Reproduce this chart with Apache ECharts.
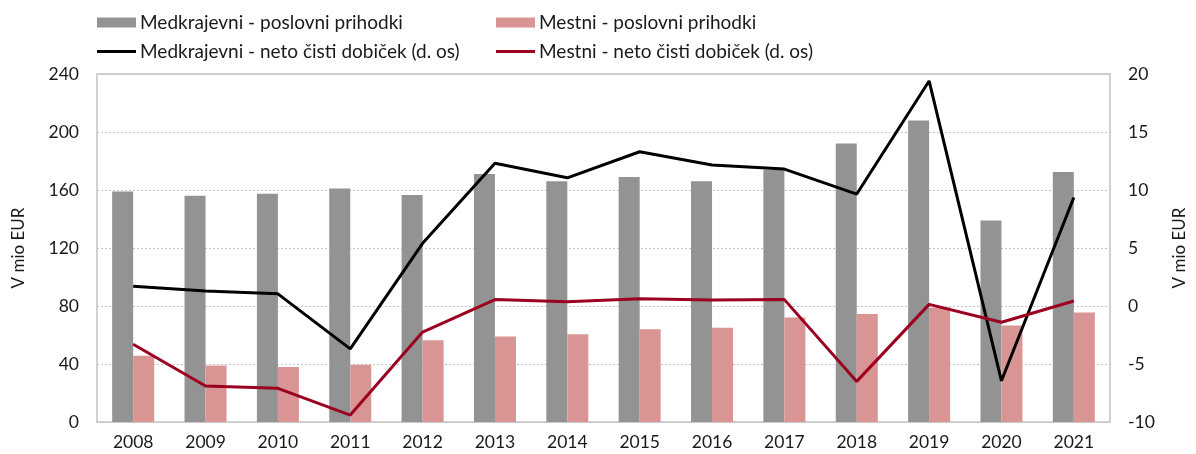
<!DOCTYPE html>
<html>
<head>
<meta charset="utf-8">
<script src="https://cdn.jsdelivr.net/npm/echarts@6/dist/echarts.min.js"></script>
<style>
  html, body { margin: 0; padding: 0; background: #fff; }
  #chart { width: 1196px; height: 454px; }
</style>
</head>
<body>
<div id="chart"></div>
<script>
// podatki
let years = ['2008', '2009', '2010', '2011', '2012', '2013', '2014', '2015', '2016', '2017', '2018', '2019', '2020', '2021'];
let medkrajevniPrihodki = [159, 156, 157.5, 161, 156.5, 171, 166, 169, 166, 174, 192, 208, 139, 172.5];
let mestniPrihodki = [45.7, 39, 38, 39.5, 56.3, 59, 60.5, 64, 65, 72, 74.5, 79, 66.5, 75.6];
let medkrajevniDobicek = [1.7, 1.3, 1.05, -3.7, 5.4, 12.3, 11.05, 13.3, 12.15, 11.8, 9.65, 19.4, -6.45, 9.35];
let mestniDobicek = [-3.3, -6.9, -7.1, -9.4, -2.25, 0.55, 0.37, 0.63, 0.52, 0.55, -6.5, 0.14, -1.4, 0.43];
let leftTicks = { min: 0, max: 240, interval: 40 };
let rightTicks = { min: -10, max: 20, interval: 5 };

let font = 'Lato';
let txt = '#1a1a1a';

let myChart = echarts.init(document.getElementById('chart'));

// ena legenda za vsak element, da so stolpci poravnani
function legendItem(name, left, top, isLine) {
    return {
        data: [name],
        left: left,
        top: top,
        padding: 0,
        icon: 'rect',
        itemWidth: 39,
        itemHeight: isLine ? 3 : 10,
        selectedMode: false,
        textStyle: { fontFamily: font, fontSize: 19, color: txt, padding: [0, 0, 0, -1] }
    };
}

let option = {
    animation: false,
    textStyle: { fontFamily: font },
    legend: [
        legendItem('Medkrajevni - poslovni prihodki', 97, 13, false),
        legendItem('Mestni - poslovni prihodki', 496, 13, false),
        legendItem('Medkrajevni - neto čisti dobiček (d. os)', 97, 42, true),
        legendItem('Mestni - neto čisti dobiček (d. os)', 496, 42, true)
    ],
    grid: {
        left: 97,
        right: 79,
        top: 74,
        bottom: 32,
        show: true,
        borderColor: '#c3c3c3',
        borderWidth: 1.5,
        containLabel: false
    },
    xAxis: {
        type: 'category',
        data: years,
        axisLine: { show: false },
        axisTick: { show: false },
        axisLabel: { fontFamily: font, fontSize: 17.5, color: txt, margin: 11 }
    },
    yAxis: [{
        type: 'value',
        min: leftTicks.min,
        max: leftTicks.max,
        interval: leftTicks.interval,
        name: 'V mio EUR',
        nameLocation: 'middle',
        nameGap: 70,
        nameTextStyle: { fontFamily: font, fontSize: 17, color: txt },
        axisLine: { show: false },
        axisTick: { show: false },
        axisLabel: { fontFamily: font, fontSize: 17.5, color: txt, margin: 18 },
        splitLine: { lineStyle: { color: '#c3c3c3', type: [2, 2], width: 1 } }
    }, {
        type: 'value',
        min: rightTicks.min,
        max: rightTicks.max,
        interval: rightTicks.interval,
        name: 'V mio EUR',
        nameLocation: 'middle',
        nameGap: 61,
        nameRotate: 90,
        nameTextStyle: { fontFamily: font, fontSize: 17, color: txt },
        axisLine: { show: false },
        axisTick: { show: false },
        axisLabel: { fontFamily: font, fontSize: 17.5, color: txt, margin: 18 },
        splitLine: { show: false }
    }],
    series: [{
        name: 'Medkrajevni - poslovni prihodki',
        type: 'bar',
        data: medkrajevniPrihodki,
        barWidth: 21,
        barGap: '0%',
        itemStyle: { color: '#939393' }
    }, {
        name: 'Mestni - poslovni prihodki',
        type: 'bar',
        data: mestniPrihodki,
        barWidth: 21,
        barGap: '0%',
        itemStyle: { color: '#d99594' }
    }, {
        name: 'Medkrajevni - neto čisti dobiček (d. os)',
        type: 'line',
        yAxisIndex: 1,
        data: medkrajevniDobicek,
        symbol: 'none',
        lineStyle: { color: '#000000', width: 3 },
        itemStyle: { color: '#000000' }
    }, {
        name: 'Mestni - neto čisti dobiček (d. os)',
        type: 'line',
        yAxisIndex: 1,
        data: mestniDobicek,
        symbol: 'none',
        lineStyle: { color: '#9c0020', width: 3 },
        itemStyle: { color: '#9c0020' }
    }]
};

myChart.setOption(option);
</script>
</body>
</html>
